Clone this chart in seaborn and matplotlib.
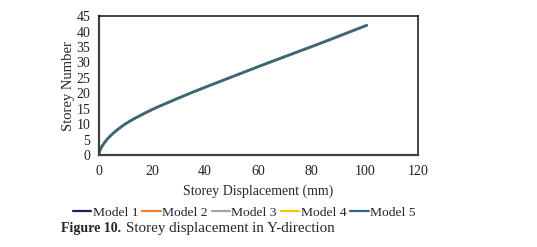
import numpy as np
import pandas as pd
import matplotlib
matplotlib.use("Agg")
import matplotlib.pyplot as plt
import seaborn as sns

# Storey levels and displacement (mm) (all models overlap)
storeys = list(range(0, 43))
disp_model1 = [0.0, 0.2, 0.65, 1.3, 2.1, 3.0, 4.1, 5.3, 6.7, 8.2, 9.8,
               11.7, 13.8, 16.0, 18.3, 20.7, 23.3, 26.0, 28.7, 31.5, 34.3,
               37.2, 40.1, 43.1, 46.1, 49.1, 52.1, 55.1, 58.1, 61.1, 64.2,
               67.3, 70.4, 73.5, 76.6, 79.7, 82.8, 85.8, 88.8, 91.8, 94.8,
               97.8, 100.8]
disp_model2 = list(disp_model1)
disp_model3 = list(disp_model1)
disp_model4 = list(disp_model1)
disp_model5 = list(disp_model1)

models = ["Model 1", "Model 2", "Model 3", "Model 4", "Model 5"]
colors = ["#1F1F5C", "#ED7D31", "#A5A5A5", "#FFC000", "#2F6690"]

frames = []
for name, d in zip(models, [disp_model1, disp_model2, disp_model3, disp_model4, disp_model5]):
    frames.append(pd.DataFrame({"disp": d, "storey": storeys, "Modelo": name}))
df = pd.concat(frames, ignore_index=True)

sns.set_theme(style="white")
plt.rcParams["font.family"] = ["Liberation Serif", "DejaVu Serif"]

fig = plt.figure(figsize=(5.37, 2.47), dpi=100)
ax = fig.add_axes([0.184, 0.372, 0.594, 0.563])

sns.lineplot(data=df, x="disp", y="storey", hue="Modelo", palette=colors,
             sort=False, estimator=None, linewidth=1.8, ax=ax, legend=False)

ax.set_xlim(0, 120)
ax.set_ylim(0, 45)
ax.set_xticks(range(0, 121, 20))
ax.set_yticks(range(0, 46, 5))
ax.tick_params(labelsize=10, length=0, colors="#222222")
ax.tick_params(axis="x", pad=7)
ax.tick_params(axis="y", pad=6)
ax.set_xlabel("Storey Displacement (mm)", fontsize=10, labelpad=5)
ax.set_ylabel("Storey Number", fontsize=10.5, labelpad=1)
for side in ["left", "bottom"]:
    ax.spines[side].set_color("#404040")
    ax.spines[side].set_linewidth(1.6)
for side in ["top", "right"]:
    ax.spines[side].set_color("#111111")
    ax.spines[side].set_linewidth(1.1)

handles = [plt.Line2D([], [], color=c, linewidth=1.6) for c in colors]
fig.legend(handles, models, loc="center", bbox_to_anchor=(0.455, 0.138), ncol=5,
           frameon=False, fontsize=9.7, handlelength=1.37, handletextpad=0.1,
           columnspacing=0.3, borderaxespad=0)

fig.text(0.113, 0.073, "Figure 10.", fontsize=10, fontweight="bold", ha="left", va="center")
fig.text(0.234, 0.073, "Storey displacement in Y-direction", fontsize=10.8, ha="left", va="center")

fig.savefig("out.png", dpi=100)
